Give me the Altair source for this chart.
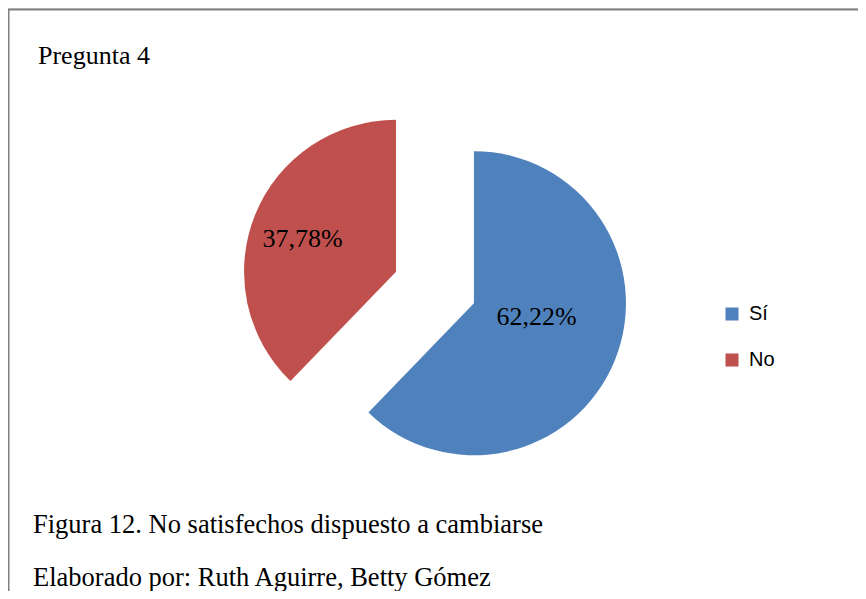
import altair as alt
import pandas as pd

categories = ["Sí", "No"]
values = [62.22, 37.78]
colors = ["#4F81BD", "#C0504D"]
title_text = ["Pregunta 4"]
caption_1 = ["Figura 12. No satisfechos dispuesto a cambiarse"]
caption_2 = ["Elaborado por: Ruth Aguirre, Betty Gómez"]

W, H = 850, 583
CX, CY, R, EXPLODE = 427, 279.5, 152, 42

df = pd.DataFrame({"cat": categories, "value": values})

base = (
    alt.Chart(df)
    .transform_window(idx="row_number()")
    .transform_joinaggregate(total="sum(value)")
    .transform_window(cum="sum(value)", sort=[alt.SortField("idx")], frame=[None, 0])
    .transform_calculate(
        t1="2*PI*datum.cum/datum.total",
        t0="2*PI*(datum.cum-datum.value)/datum.total",
    )
    .transform_calculate(mid="(datum.t0+datum.t1)/2", share="datum.value/datum.total")
    .transform_calculate(
        cx=f"{CX}+{EXPLODE}*sin(datum.mid)",
        cy=f"{CY}-{EXPLODE}*cos(datum.mid)",
        lr="datum.share>0.5 ? 64 : 99",
        la="datum.mid + (datum.share>0.5 ? -0.17 : -0.05)",
        label="replace(format(datum.value, '.2f'), '.', ',') + '%'",
    )
    .transform_calculate(
        lx="datum.cx + datum.lr*sin(datum.la)",
        ly="datum.cy - datum.lr*cos(datum.la)",
    )
)

arcs = base.mark_arc(outerRadius=R).encode(
    theta=alt.Theta("t0:Q", scale=None),
    theta2="t1:Q",
    x=alt.X("cx:Q", scale=None),
    y=alt.Y("cy:Q", scale=None),
    color=alt.Color(
        "cat:N",
        scale=alt.Scale(domain=categories, range=colors),
        sort=categories,
        legend=alt.Legend(
            title=None,
            orient="none",
            legendX=714,
            legendY=296,
            symbolType="square",
            symbolSize=170,
            symbolStrokeWidth=0,
            labelFont="Liberation Sans",
            labelFontSize=20,
            labelColor="#000000",
            rowPadding=26,
            labelOffset=7,
        ),
    ),
)

labels = base.mark_text(font="Liberation Serif", fontSize=26, color="#000000").encode(
    x=alt.X("lx:Q", scale=None),
    y=alt.Y("ly:Q", scale=None),
    text="label:N",
)

def txt(lines, x, y, size):
    return alt.Chart(pd.DataFrame({"t": lines})).mark_text(
        font="Liberation Serif", fontSize=size, align="left", baseline="alphabetic", color="#000000"
    ).encode(x=alt.value(x), y=alt.value(y), text="t:N")

title = txt(title_text, 30, 55.5, 26)
cap1 = txt(caption_1, 25, 524.5, 26.5)
cap2 = txt(caption_2, 25, 577.5, 26.5)

one = pd.DataFrame({"a": [1]})
top_rule = alt.Chart(one).mark_rule(color="#808080", strokeWidth=2).encode(
    x=alt.value(0), x2=alt.value(W), y=alt.value(1.5)
)
left_rule = alt.Chart(one).mark_rule(color="#808080", strokeWidth=2).encode(
    x=alt.value(0.5), y=alt.value(1), y2=alt.value(H)
)

chart = (
    alt.layer(top_rule, left_rule, arcs, labels, title, cap1, cap2)
    .properties(width=W, height=H, autosize=alt.AutoSizeParams(type="none"), padding=0)
    .configure_view(stroke=None)
    .configure(background="#ffffff")
)

chart.save("out.html", embed_options={"renderer": "svg", "actions": False})
